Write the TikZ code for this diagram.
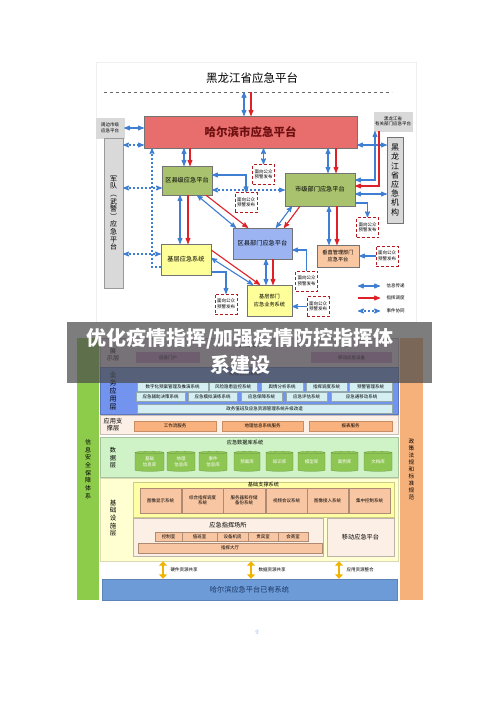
\documentclass[tikz,border=0pt]{standalone}
\usepackage{fontspec}
\setmainfont{Noto Sans CJK SC}
\usetikzlibrary{arrows,arrows.meta,shapes.geometric,shadows,positioning}
\definecolor{hrbred}{HTML}{E86E6E}
\definecolor{hrbtxt}{HTML}{6E1010}
\definecolor{olivebox}{HTML}{A8C26E}
\definecolor{qxblue}{HTML}{9CB5F2}
\definecolor{jcyel}{HTML}{FFFF99}
\definecolor{czpeach}{HTML}{F9C8A2}
\definecolor{shdpur}{HTML}{6A3D8F}
\definecolor{arrblue}{HTML}{3E7ED3}
\definecolor{arrred}{HTML}{E02027}
\definecolor{arryel}{HTML}{F2B300}
\definecolor{gbox}{HTML}{D9D9D9}
\definecolor{zsbg}{HTML}{EAD5EC}
\definecolor{zsit}{HTML}{C58BCB}
\definecolor{ywbg}{HTML}{7394EE}
\definecolor{ywit}{HTML}{D4EEF2}
\definecolor{zcbg}{HTML}{FCEFE6}
\definecolor{zcit}{HTML}{F9B27E}
\definecolor{sjbg}{HTML}{CFF3C6}
\definecolor{sjcyl}{HTML}{8DC653}
\definecolor{jsbg}{HTML}{FFFFD2}
\definecolor{jsin}{HTML}{FFFFA6}
\definecolor{jsit}{HTML}{F8C6A3}
\definecolor{sidegreen}{HTML}{8DCB4B}
\definecolor{sideorange}{HTML}{F6B07A}
\definecolor{barblue}{HTML}{6C9BD8}
\definecolor{navytxt}{HTML}{1F3864}

\tikzset{
  f4/.style={font=\fontsize{4.5}{5.5}\selectfont},
  f5/.style={font=\fontsize{5.2}{6.2}\selectfont},
  f6/.style={font=\fontsize{6.2}{7.6}\selectfont},
  pf/.style={draw=black!55, line width=.4, inner sep=0, align=center, f6},
  shd/.style={drop shadow={shadow xshift=1.3pt, shadow yshift=-1.3pt, fill=shdpur, opacity=1}},
  gz/.style={draw=arrred!80!black, densely dashed, line width=.5, fill=white, minimum width=22, minimum height=20, inner sep=0, align=center, f4},
  barr/.style={draw=arrblue, line width=1.1, <->, >=stealth'},
  rarr/.style={draw=arrred, line width=1.1, ->, >=stealth'},
  darr/.style={barr, dash pattern=on 2.5pt off 1.5pt},
  yarr/.style={draw=arryel, line width=2.2, {Triangle[width=8pt,length=4.5pt]}-{Triangle[width=8pt,length=4.5pt]}},
  lay/.style={line width=.4, inner sep=0, minimum width=298},
  it/.style={line width=.3, inner sep=0, align=center, f4}
}

\begin{document}
\begin{tikzpicture}[x=1pt, y=-1pt]
\useasboundingbox[fill=white] (0,0) rectangle (500,706);

% top: emergency platform network
\draw[gray!12] (96,62) rectangle (416,322);
\node[font=\fontsize{11.5}{13}\selectfont] (ttl) at (252,78) {黑龙江省应急平台};
\draw[dashed, black!60] (104,92) -- (392,92);
\coordinate (dl) at (250.5,92);

\node[pf, fill=hrbred, minimum width=213, minimum height=32, text=hrbtxt, font=\fontsize{11.5}{13}\selectfont\bfseries] (hrb) at (250.5,132) {哈尔滨市应急平台};
\node[pf, fill=gbox, draw=gbox, minimum width=28, minimum height=20, f4] (zb) at (110,128) {周边市级\\应急平台};
\node[pf, fill=gbox, draw=gbox, minimum width=38, minimum height=19, f4] (yg) at (393,121.5) {黑龙江省\\有关部门应急平台};
\node[pf, fill=gbox, draw=black!40, minimum width=19, minimum height=150, font=\fontsize{7}{7.6}\selectfont] (jd) at (113.5,213) {军\\队\\︵\\武\\警\\︶\\应\\急\\平\\台};
\node[pf, fill=gbox, draw=black!55, minimum width=16, minimum height=86, font=\fontsize{8}{9.2}\selectfont] (sj) at (395,180) {黑\\龙\\江\\省\\应\\急\\机\\构};

\node[pf, shd, fill=olivebox, minimum width=50, minimum height=29] (qxj) at (187,180.5) {区县级应急平台};
\node[pf, shd, fill=olivebox, minimum width=70, minimum height=33] (sjbm) at (320,189.5) {市级部门应急平台};
\node[pf, shd, fill=qxblue, minimum width=59, minimum height=31] (qxbm) at (262.5,243.5) {区县部门应急平台};
\node[pf, shd, fill=jcyel, minimum width=50, minimum height=31] (jcyj) at (186,259.5) {基层应急系统};
\node[pf, fill=czpeach, minimum width=42, minimum height=22, f5] (czgl) at (338,256) {垂直管理部门\\应急平台};
\node[pf, fill=jcyel, minimum width=45, minimum height=31, f5] (jcbm) at (269.5,300.5) {基层部门\\[2pt]应急业务系统};

\node[gz] (gz1) at (263.5,174.5) {面向公众\\预警发布};
\node[gz] (gz2) at (246,202.5) {面向公众\\预警发布};
\node[gz] (gz3) at (367.5,227.5) {面向公众\\预警发布};
\node[gz] (gz4) at (387,256) {面向公众\\预警发布};
\node[gz] (gz5) at (306.5,281) {面向公众\\预警发布};
\node[gz] (gz6) at (226,304) {面向公众\\预警发布};
\node[gz] (gz7) at (318,306.5) {面向公众\\预警发布};

\draw[barr] ([xshift=-6.5]dl) -- ([xshift=-6.5]hrb.north);
\draw[rarr] ([xshift=.5]dl) -- ([xshift=.5]hrb.north);
\draw[barr] (zb.east) -- (zb.east -| hrb.west);
\draw[darr] ([yshift=-13]hrb.west -| jd.east) -- ([yshift=-13]hrb.west);
\draw[darr, <-] ([xshift=-98.5]hrb.south) |- ([yshift=-7.5]jcyj.west);
\draw[darr] ([yshift=-7.5]qxj.west -| jd.east) -- ([yshift=-7.5]qxj.west);
\draw[darr] ([yshift=5.5]jcyj.west -| jd.east) -- ([yshift=5.5]jcyj.west);
\draw[barr] ([xshift=-3]qxj.north |- hrb.south) -- ([xshift=-3]qxj.north);
\draw[rarr] ([xshift=3]qxj.north |- hrb.south) -- ([xshift=3]qxj.north);
\draw[barr] (gz1.north |- hrb.south) -- (gz1.north);
\draw[barr] ([xshift=8]sjbm.north |- hrb.south) -- ([xshift=8]sjbm.north);
\draw[rarr] ([xshift=16]sjbm.north |- hrb.south) -- ([xshift=16]sjbm.north);
\draw[barr] ([yshift=-13]hrb.east) -- ([yshift=-13]hrb.east -| sj.west);
\draw[barr] ([xshift=-18]yg.south) |- ([yshift=9.5]sjbm.east);
\draw[rarr] ([xshift=-14]yg.south) |- ([yshift=3.5]sjbm.east);
\draw[barr] ([yshift=-4.5]sjbm.east) -- ([yshift=-4.5]sjbm.east -| sj.west);
\draw[barr, <-] (gz3.north) |- ([yshift=-13.5]sjbm.east);
\draw[barr] ([xshift=9]sjbm.south) -- ([xshift=9]sjbm.south |- czgl.north);
\draw[rarr] ([xshift=17]sjbm.south) -- ([xshift=17]sjbm.south |- czgl.north);
\draw[barr, <-] (gz4.west -| czgl.east) -- (gz4.west);
\draw[barr] ([xshift=-28]sjbm.south) -- ([xshift=13.5]qxbm.north);
\draw[rarr] ([xshift=-20]sjbm.south) -- ([xshift=21.5]qxbm.north);
\draw[barr] ([yshift=5.5]qxj.east) -| (gz2.north);
\draw[darr] ([yshift=-9.5]qxj.east) -- ([yshift=-9.5]qxj.east -| sjbm.west);
\draw[barr] ([xshift=10]qxj.south) -- ([xshift=-26.5]qxbm.north);
\draw[rarr] ([xshift=19]qxj.south) -- ([xshift=-14.5]qxbm.north);
\draw[barr] ([xshift=-7]qxj.south) -- ([xshift=-7]qxj.south |- jcyj.north);
\draw[rarr] ([xshift=1]qxj.south) -- ([xshift=1]qxj.south |- jcyj.north);
\draw[rarr] ([yshift=9.5]jcyj.east) -- ([xshift=-9.5]jcbm.north);
\draw[barr] ([yshift=1.5]jcyj.east) -- ([xshift=-16.5]jcbm.north);
\draw[barr, <-] (gz6.north) |- ([yshift=-12.5]jcyj.east);
\draw[barr] ([xshift=3.5]qxbm.south) -- ([xshift=3.5]qxbm.south |- jcbm.north);
\draw[rarr] ([xshift=10.5]qxbm.south) -- ([xshift=10.5]qxbm.south |- jcbm.north);
\draw[barr, <-] ([yshift=-6.5]qxbm.east) -| (gz5.north);
\draw[barr, <-] (gz7.west -| jcbm.east) -- (gz7.west);

% legend
\coordinate (la1) at (358,286); \coordinate (lb1) at (380,286);
\coordinate (la2) at (358,298); \coordinate (lb2) at (380,298);
\coordinate (la3) at (358,311); \coordinate (lb3) at (380,311);
\draw[barr] (la1) -- (lb1);
\draw[rarr] (la2) -- (lb2);
\draw[darr] (la3) -- (lb3);
\node[f4, anchor=west] (lt1) at (383,286) {信息传递};
\node[f4, anchor=west] (lt2) at (383,298) {指挥调度};
\node[f4, anchor=west] (lt3) at (383,311) {事件协同};

% bottom: system architecture
\node[fill=sidegreen, minimum width=22, minimum height=262, inner sep=0, align=center, font=\fontsize{6}{7.7}\selectfont] (aq) at (88,469) {信\\息\\安\\全\\保\\障\\体\\系};
\node[fill=sideorange, minimum width=23, minimum height=262, inner sep=0, align=center, font=\fontsize{5.6}{7}\selectfont] (zc) at (411.5,469) {政\\策\\法\\规\\和\\标\\准\\规\\范};

\node[lay, fill=zsbg, draw=zsbg!80!black, minimum height=29] (zs) at (249,352.5) {};
\node[lay, fill=ywbg, draw=ywbg!80!black, minimum height=47] (yw) at (249,390.5) {};
\node[lay, fill=zcbg, draw=zcbg!80!black, minimum height=19] (yy) at (249,424.5) {};
\node[lay, fill=sjbg, draw=sjbg!80!black, minimum height=40] (sjk) at (249,457) {};
\node[lay, fill=jsbg, draw=jsbg!85!black, minimum height=83] (jc) at (249,519.5) {};

\node[f6, align=center] (zsl) at (113,355) {展\\示层};
\node[font=\fontsize{7}{8}\selectfont, align=center] (ywl) at (113,391) {业\\务\\应\\用\\层};
\node[f6, align=center] (yyl) at (113,424.5) {应用支\\撑层};
\node[f6, align=center] (sjl) at (113,458) {数\\据\\层};
\node[font=\fontsize{6.5}{7.6}\selectfont, align=center] (jcl) at (113,518) {基\\础\\设\\施\\层};

\node[f4] (fwqd) at (247,346) {服务渠道};
\node[it, fill=zsit, minimum width=64, minimum height=11] (mh) at (168,357.5) {应急门户};
\node[it, fill=zsit, minimum width=81, minimum height=11] (yd) at (351.5,357.5) {移动应急设备};

\node[f5] (zhyy) at (245,374) {综合应用系统};
\foreach \cx/\w/\t [count=\i] in {172.5/71/数字化预案管理及推演系统, 233/48/风险隐患监控系统, 282/42/舆情分析系统, 326.5/41/指挥调度系统, 370.5/43/预警管理系统}
  \node[it, fill=ywit, draw=ywit!70!black, minimum width=\w, minimum height=9] (ya\i) at (\cx,386.5) {\t};
\foreach \cx/\w/\t [count=\i] in {160.5/49/应急辅助决策系统, 212.5/49/应急模拟演练系统, 261.5/41/应急保障系统, 306.5/41/应急评估系统, 361.5/61/应急通移动系统}
  \node[it, fill=ywit, draw=ywit!70!black, minimum width=\w, minimum height=9] (yb\i) at (\cx,396.5) {\t};
\node[it, fill=ywit, draw=ywit!70!black, minimum width=255, minimum height=9] (yc) at (264.5,408.5) {政务值班及应急资源管理系统升级改造};

\foreach \cx/\w/\t [count=\i] in {175/82/工作流服务, 262.5/81/地理信息系统服务, 350.5/83/报表服务}
  \node[it, fill=zcit, draw=zcit!80!black, minimum width=\w, minimum height=10] (zf\i) at (\cx,426) {\t};

\node[f5] (sjxt) at (245,443) {应急数据库系统};
\foreach \cx/\w/\t [count=\i] in {149.5/29/基础\\信息库, 181/28/地理\\信息库, 213/28/事件\\信息库, 247/26/预案库, 279.5/27/知识库, 311.5/27/模型库, 344.5/27/案例库, 378/28/文档库}
  \node[cylinder, shape border rotate=90, aspect=.18, fill=sjcyl, draw=sjcyl!75!black, line width=.3, inner sep=0, minimum width=\w, minimum height=20, align=center, text=white, f4] (ck\i) at (\cx,462) {\t};

\node[draw=jsin!80!black, fill=jsin, line width=.3, minimum width=261, minimum height=35, inner sep=0] (zcxt) at (263.5,499.5) {};
\node[f5] (zcxtl) at (263.5,485) {基础支撑系统};
\foreach \cx/\t [count=\i] in {160.5/图像显示系统, 202.5/综合指挥调度\\系统, 244/服务器和存储\\备份系统, 286.5/视频会议系统, 327.5/图像接入系统, 369.5/集中控制系统}
  \node[it, fill=jsit, draw=jsit!70!black, minimum width=41.5, minimum height=25] (js\i) at (\cx,500.5) {\t};

\node[draw=zcbg!75!black, fill=zcbg, line width=.3, minimum width=190, minimum height=38, inner sep=0] (cs) at (228,537) {};
\node[f6] (csl) at (228,525) {应急指挥场所};
\foreach \cx/\w/\t [count=\i] in {168.5/27/控制室, 199.5/35/值班室, 232.5/31/设备机房, 263/30/贵宾室, 293/30/会商室}
  \node[it, fill=jsit, draw=jsit!70!black, minimum width=\w, minimum height=9] (fj\i) at (\cx,536.5) {\t};
\node[it, fill=jsit, draw=jsit!70!black, minimum width=184, minimum height=10] (dt) at (230,548) {指挥大厅};
\node[draw=zcbg!75!black, fill=zcbg, line width=.3, minimum width=67, minimum height=38, inner sep=0, f6] (ydpt) at (360.5,537) {移动应急平台};

\node[fill=barblue, draw=barblue!85!black, minimum width=295, minimum height=21, inner sep=0, text=navytxt, font=\fontsize{7.2}{8}\selectfont] (yyxt) at (249.5,589.5) {哈尔滨应急平台已有系统};
\draw[yarr] ([xshift=-86.5]yyxt.north |- jc.south) -- ([xshift=-86.5]yyxt.north);
\draw[yarr] ([xshift=1.5]yyxt.north |- jc.south) -- ([xshift=1.5]yyxt.north);
\draw[yarr] ([xshift=89.5]yyxt.north |- jc.south) -- ([xshift=89.5]yyxt.north);
\node[f4, anchor=west] (gx1) at (167,570) {硬件资源共享};
\node[f4, anchor=west] (gx2) at (255,570) {数据资源共享};
\node[f4, anchor=west] (gx3) at (343,570) {应用资源整合};

\node[text=arrblue!50, font=\fontsize{6}{7}\selectfont] (pg) at (257,632) {9};

% banner
\fill[black!70, opacity=.72] (67,322) rectangle (432,383);
\node[text=white, font=\fontsize{20}{27}\selectfont\bfseries, align=center] (bt) at (240,351) {优化疫情指挥/加强疫情防控指挥体\\系建设};
\end{tikzpicture}
\end{document}
